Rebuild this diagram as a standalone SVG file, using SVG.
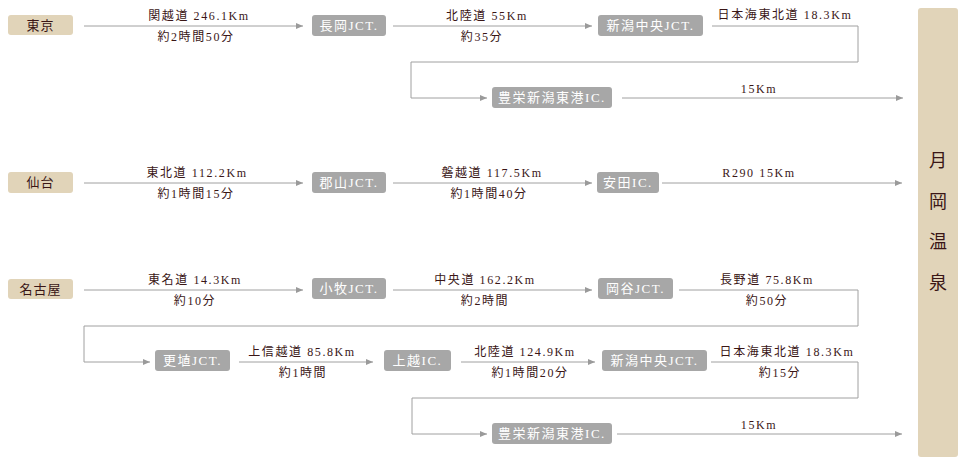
<svg xmlns="http://www.w3.org/2000/svg" width="966" height="466" viewBox="0 0 966 466">
<defs>
<marker id="ah" markerUnits="userSpaceOnUse" markerWidth="7" markerHeight="6" refX="7" refY="3" orient="auto">
<path d="M0,0 L7,3 L0,6 z" fill="#9a9a9a"/>
</marker>
<style>
.c{fill:none;stroke:#a0a0a0;stroke-width:1}
.a{marker-end:url(#ah)}
.org{fill:#e1d4b9}
.jct{fill:#a7a7a7}
.t{font-family:"Liberation Serif","Noto Sans CJK JP",serif;font-size:12px;fill:#3a1616;text-anchor:middle;letter-spacing:1.6px}
.bt{font-family:"Liberation Serif","Noto Sans CJK JP",serif;font-size:13px;fill:#ffffff;text-anchor:middle;letter-spacing:1.5px}
.ot{font-family:"Noto Sans CJK JP",sans-serif;font-size:13px;fill:#3a1616;text-anchor:middle;letter-spacing:1px}
.big{font-family:"Noto Sans CJK JP",sans-serif;font-size:18px;fill:#3a1616;text-anchor:middle}
</style>
</defs>
<rect width="966" height="466" fill="#ffffff"/>
<g id="connectors">
<line class="c a" x1="84" y1="26" x2="303" y2="26"/>
<line class="c a" x1="393" y1="26" x2="592" y2="26"/>
<polyline class="c a" points="712,26 858,26 858,62 411,62 411,98 487,98"/>
<line class="c a" x1="622" y1="98" x2="903" y2="98"/>
<line class="c a" x1="84" y1="183" x2="303" y2="183"/>
<line class="c a" x1="393" y1="183" x2="592" y2="183"/>
<line class="c a" x1="662" y1="183" x2="902" y2="183"/>
<line class="c a" x1="84" y1="290" x2="303" y2="290"/>
<line class="c a" x1="393" y1="290" x2="592" y2="290"/>
<polyline class="c a" points="679,290 858,290 858,326 84,326 84,362 150,362"/>
<line class="c a" x1="239" y1="362" x2="373" y2="362"/>
<line class="c a" x1="461" y1="362" x2="595" y2="362"/>
<polyline class="c a" points="711,362 858,362 858,398 412,398 412,434 487,434"/>
<line class="c a" x1="617" y1="434" x2="902" y2="434"/>
</g>
<g id="labels">
<text class="t" x="199" y="20">関越道 246.1Km</text>
<text class="t" x="196" y="41">約2時間50分</text>
<text class="t" x="487" y="20">北陸道 55Km</text>
<text class="t" x="482" y="41">約35分</text>
<text class="t" x="785" y="19">日本海東北道 18.3Km</text>
<text class="t" x="759" y="93">15Km</text>
<text class="t" x="197" y="177">東北道 112.2Km</text>
<text class="t" x="196" y="198">約1時間15分</text>
<text class="t" x="492" y="177">磐越道 117.5Km</text>
<text class="t" x="489" y="198">約1時間40分</text>
<text class="t" x="759" y="177">R290 15Km</text>
<text class="t" x="195" y="284">東名道 14.3Km</text>
<text class="t" x="195" y="305">約10分</text>
<text class="t" x="485" y="284">中央道 162.2Km</text>
<text class="t" x="485" y="305">約2時間</text>
<text class="t" x="767" y="284">長野道 75.8Km</text>
<text class="t" x="767" y="305">約50分</text>
<text class="t" x="302" y="356">上信越道 85.8Km</text>
<text class="t" x="303" y="377">約1時間</text>
<text class="t" x="525" y="356">北陸道 124.9Km</text>
<text class="t" x="530" y="377">約1時間20分</text>
<text class="t" x="787" y="356">日本海東北道 18.3Km</text>
<text class="t" x="780" y="377">約15分</text>
<text class="t" x="759" y="429">15Km</text>
</g>
<g id="tokyo"><rect class="org" x="8" y="15" width="65" height="20" rx="3"/><text class="ot" x="40.5" y="30">東京</text></g>
<g id="nagaoka"><rect class="jct" x="312" y="15" width="74" height="21" rx="3"/><text class="bt" x="349" y="30">長岡JCT.</text></g>
<g id="niigata1"><rect class="jct" x="598" y="15" width="105" height="21" rx="3"/><text class="bt" x="650.5" y="30">新潟中央JCT.</text></g>
<g id="toyosaka1"><rect class="jct" x="492" y="87" width="120" height="21" rx="3"/><text class="bt" x="552" y="102">豊栄新潟東港IC.</text></g>
<g id="sendai"><rect class="org" x="8" y="172" width="65" height="21" rx="3"/><text class="ot" x="40.5" y="187">仙台</text></g>
<g id="koriyama"><rect class="jct" x="312" y="172" width="74" height="21" rx="3"/><text class="bt" x="349" y="187">郡山JCT.</text></g>
<g id="yasuda"><rect class="jct" x="597" y="172" width="62" height="21" rx="3"/><text class="bt" x="628" y="187">安田IC.</text></g>
<g id="nagoya"><rect class="org" x="8" y="279" width="65" height="20" rx="3"/><text class="ot" x="40.5" y="294">名古屋</text></g>
<g id="komaki"><rect class="jct" x="312" y="278" width="74" height="21" rx="3"/><text class="bt" x="349" y="293">小牧JCT.</text></g>
<g id="okaya"><rect class="jct" x="598" y="278" width="75" height="21" rx="3"/><text class="bt" x="635.5" y="293">岡谷JCT.</text></g>
<g id="koshoku"><rect class="jct" x="155" y="350" width="75" height="21" rx="3"/><text class="bt" x="192.5" y="365">更埴JCT.</text></g>
<g id="joetsu"><rect class="jct" x="384" y="350" width="67" height="21" rx="3"/><text class="bt" x="417.5" y="365">上越IC.</text></g>
<g id="niigata2"><rect class="jct" x="602" y="350" width="105" height="21" rx="3"/><text class="bt" x="654.5" y="365">新潟中央JCT.</text></g>
<g id="toyosaka2"><rect class="jct" x="492" y="423" width="120" height="21" rx="3"/><text class="bt" x="552" y="438">豊栄新潟東港IC.</text></g>
<g id="tsukioka"><rect class="org" x="918" y="8" width="40" height="449" rx="3"/>
<text class="big" x="938" y="167">月</text>
<text class="big" x="938" y="208">岡</text>
<text class="big" x="938" y="248">温</text>
<text class="big" x="938" y="289">泉</text>
</g>
</svg>
